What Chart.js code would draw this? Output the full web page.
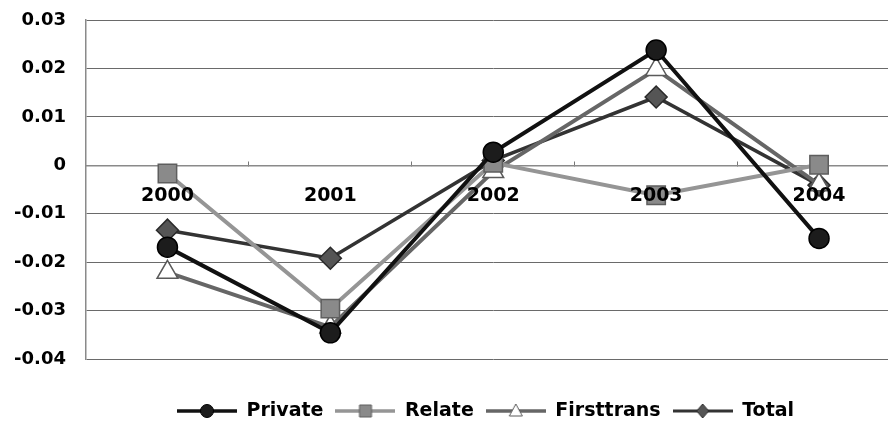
<!DOCTYPE html>
<html>
<head>
<meta charset="utf-8">
<script src="https://cdn.jsdelivr.net/npm/chart.js@4.4.1/dist/chart.umd.min.js"></script>
<style>
  html, body { margin: 0; padding: 0; background: #fff; overflow: hidden; }
  #wrap { width: 888px; height: 422px; overflow: hidden; }
  canvas { display: block; }
</style>
</head>
<body>
<div id="wrap"><canvas id="c" width="915" height="422"></canvas></div>
<script>
// Categories and series values
const years = ['2000', '2001', '2002', '2003', '2004'];
const privateVals    = [-0.0169, -0.0346, 0.0027, 0.0238, -0.0151];
const relateVals     = [-0.0017, -0.0296, 0.0005, -0.0062, 0.0001];
const firsttransVals = [-0.0221, -0.0334, -0.0013, 0.0198, -0.0040];
const totalVals      = [-0.0134, -0.0192, 0.0010, 0.0141, -0.0041];

// Value-axis ticks
const yTicks = [-0.04, -0.03, -0.02, -0.01, 0, 0.01, 0.02, 0.03];

const FONT = 'DejaVu Sans';

// Small line-with-marker swatches for the legend
function legendIcon(lineColor, lineWidth, shape, fill, stroke) {
  const c = document.createElement('canvas');
  c.width = 60; c.height = 18;
  const g = c.getContext('2d');
  g.strokeStyle = lineColor; g.lineWidth = lineWidth;
  g.beginPath(); g.moveTo(0, 9); g.lineTo(60, 9); g.stroke();
  g.fillStyle = fill; g.strokeStyle = stroke; g.lineWidth = 1;
  g.beginPath();
  const cx = 30, cy = 9;
  if (shape === 'circle') {
    g.arc(cx, cy, 6.5, 0, Math.PI * 2);
  } else if (shape === 'rect') {
    g.rect(cx - 6, cy - 6, 12, 12);
  } else if (shape === 'triangle') {
    g.moveTo(cx, cy - 7); g.lineTo(cx + 6.5, cy + 5); g.lineTo(cx - 6.5, cy + 5); g.closePath();
  } else {
    g.moveTo(cx, cy - 7); g.lineTo(cx + 6, cy); g.lineTo(cx, cy + 7); g.lineTo(cx - 6, cy); g.closePath();
  }
  g.fill(); g.stroke();
  return c;
}

const seriesStyle = [
  { label: 'Private',    data: privateVals,    line: '#111111', lw: 4,   shape: 'circle',   r: 10, fill: '#1c1c1c', stroke: '#000' },
  { label: 'Relate',     data: relateVals,     line: '#959595', lw: 4,   shape: 'rect',     r: 13, fill: '#8a8a8a', stroke: '#5e5e5e' },
  { label: 'Firsttrans', data: firsttransVals, line: '#666666', lw: 4,   shape: 'triangle', r: 12, fill: '#ffffff', stroke: '#5a5a5a' },
  { label: 'Total',      data: totalVals,      line: '#333333', lw: 3.5, shape: 'rectRot',  r: 11, fill: '#555555', stroke: '#2a2a2a' }
];

const icons = seriesStyle.map(s => legendIcon(s.line, s.lw - 0.5, s.shape, s.fill, s.stroke));

const datasets = seriesStyle.map(s => ({
  label: s.label,
  data: s.data,
  borderColor: s.line,
  borderWidth: s.lw,
  backgroundColor: s.fill,
  pointStyle: s.shape,
  pointRadius: s.r,
  pointHoverRadius: s.r,
  pointBackgroundColor: s.fill,
  pointBorderColor: s.stroke,
  pointBorderWidth: 1.5,
  tension: 0,
  fill: false
}));

// Moves the legend row so it sits centred under the plot
const legendPlacer = {
  id: 'legendPlacer',
  afterLayout(chart) {
    const lg = chart.legend;
    if (!lg || !lg.lineWidths) return;
    const pad = lg.options.labels.padding;
    const start = (lg.left + pad + lg.right - lg.lineWidths[0]) / 2;
    const dx = 177 - start;
    lg.left += dx; lg.right += dx;
    const fs = lg.options.labels.font.size;
    const top = 411 - pad - fs / 2;
    lg.top = top; lg.bottom = top + lg.height;
  }
};

new Chart(document.getElementById('c'), {
  type: 'line',
  data: { labels: years, datasets },
  options: {
    responsive: false,
    animation: false,
    layout: { padding: { top: 20, right: 0, bottom: 22, left: 0 } },
    plugins: {
      tooltip: { enabled: false },
      legend: {
        position: 'bottom',
        labels: {
          usePointStyle: true,
          pointStyleWidth: 60,
          padding: 12,
          color: '#000',
          font: { family: FONT, size: 19, weight: 'bold' },
          generateLabels(chart) {
            const items = Chart.defaults.plugins.legend.labels.generateLabels(chart);
            items.forEach((it, i) => { it.pointStyle = icons[i]; });
            return items;
          }
        }
      }
    },
    scales: {
      x: {
        type: 'category',
        offset: true,
        position: { y: 0 },
        grid: {
          drawOnChartArea: false,
          drawTicks: true,
          tickLength: -5,
          color: '#777',
          offset: true
        },
        border: { display: true, color: '#8a8a8a', width: 1.5 },
        ticks: {
          z: 1,
          color: '#000',
          padding: 24,
          font: { family: FONT, size: 19, weight: 'bold' },
          maxRotation: 0
        }
      },
      y: {
        min: -0.04,
        max: 0.03,
        afterBuildTicks(scale) { scale.ticks = yTicks.map(v => ({ value: v })); },
        afterFit(scale) {
          scale.width = 86;
          // keep the outer margins to the layout padding only
          scale.paddingTop = 0; scale.paddingBottom = 0;
        },
        grid: { color: '#6a6a6a', lineWidth: 1, drawTicks: false },
        border: { display: true, color: '#8a8a8a', width: 1.5 },
        ticks: {
          color: '#000',
          padding: 20,
          font: { family: FONT, size: 18, weight: 'bold' },
          callback: v => String(Math.round(v * 100) / 100)
        }
      }
    }
  },
  plugins: [legendPlacer]
});
</script>
</body>
</html>
